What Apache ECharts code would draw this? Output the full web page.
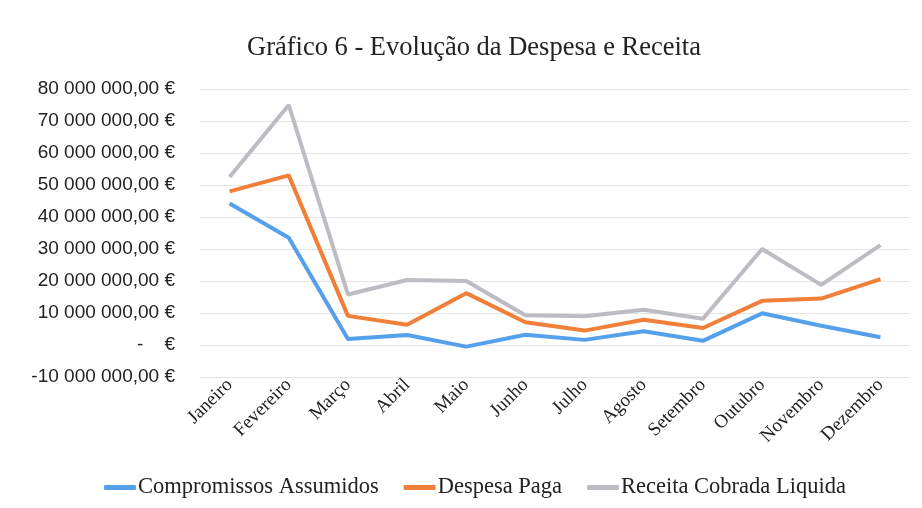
<!DOCTYPE html>
<html><head><meta charset="utf-8">
<script src="https://cdn.jsdelivr.net/npm/echarts@6/dist/echarts.min.js"></script>
<style>html,body{margin:0;padding:0;background:#fff}#c{width:922px;height:508px}</style>
</head><body><div id="c"></div>
<script>
const months = ["Janeiro","Fevereiro","Março","Abril","Maio","Junho","Julho","Agosto","Setembro","Outubro","Novembro","Dezembro"];
const compromissos = [44200000,33500000,1900000,3100000,-500000,3200000,1600000,4300000,1300000,9900000,6000000,2400000];
const despesa = [48000000,53000000,9100000,6300000,16200000,7100000,4500000,7900000,5300000,13800000,14500000,20600000];
const receita = [52500000,75000000,15800000,20300000,20000000,9300000,9000000,11000000,8200000,30000000,18800000,31200000];
const seriesNames = ["Compromissos Assumidos","Despesa Paga","Receita Cobrada Liquida"];
const colors = ["#55A0EA","#F07F3A","#BDBCC2"];

function fmt(v){
  if (v === 0) return "-    €";
  const neg = v < 0; let s = Math.abs(v).toFixed(0);
  s = s.replace(/\B(?=(\d{3})+(?!\d))/g, " ");
  return (neg ? "-" : "") + s + ",00 €";
}
const chart = echarts.init(document.getElementById('c'), null, {renderer:'canvas'});
const data = [compromissos, despesa, receita];
chart.setOption({
  animation:false,
  backgroundColor:'#fff',
  title:{text:'Gráfico 6 - Evolução da Despesa e Receita', left:242, top:30,
    textStyle:{fontFamily:'Liberation Serif', fontSize:26.5, fontWeight:'normal', color:'#222'}},
  legend:{data:seriesNames, top:471, left:99, itemWidth:32, itemHeight:5, itemGap:25,
    icon:'roundRect',
    textStyle:{fontFamily:'Liberation Serif', fontSize:22.5, color:'#222', padding:[0,0,0,-3]}},
  grid:{left:200, right:12, top:89, bottom:131, containLabel:false},
  xAxis:{type:'category', data:months, boundaryGap:true,
    axisLine:{show:false, onZero:false}, axisTick:{show:false},
    axisLabel:{rotate:45, margin:5, fontFamily:'Liberation Serif', fontSize:19, color:'#222'}},
  yAxis:{type:'value', min:-10000000, max:80000000, interval:10000000,
    axisLine:{show:false}, axisTick:{show:false},
    splitLine:{lineStyle:{color:'#E4E4E4', width:1}},
    axisLabel:{formatter:fmt, margin:25, fontFamily:'Liberation Sans', fontSize:19, color:'#222'}},
  series: seriesNames.map((n,i)=>({name:n, type:'line', data:data[i], symbol:'none',
    lineStyle:{width:4, color:colors[i]}, itemStyle:{color:colors[i]}}))
});
</script></body></html>
